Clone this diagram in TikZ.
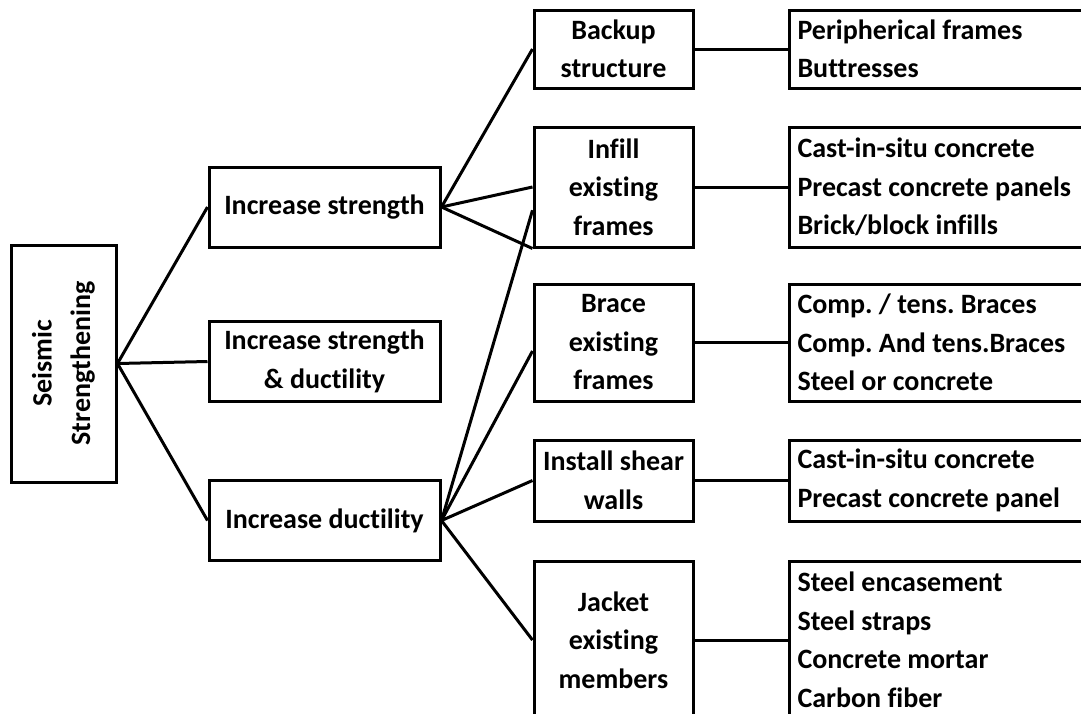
\documentclass[tikz,border=0pt]{standalone}
\usepackage{fontspec}
\setmainfont{Carlito}[Ligatures=NoCommon]
\usetikzlibrary{calc}
\frenchspacing

\begin{document}
\begin{tikzpicture}[x=0.5pt, y=-0.5pt,
    box/.style={draw, line width=1.5pt, align=center, inner sep=2pt, font=\bfseries\fontsize{14}{19.25}\selectfont},
    lvl/.style={box, minimum width=115.5pt, minimum height=40pt},
    way/.style={box, minimum width=79.5pt},
    list/.style={box, anchor=west, align=flush left, text width=152pt, inner xsep=4pt},
    link/.style={line width=1.5pt}
]
\path[use as bounding box, clip] (0,0) rectangle (1081,713);
% root, written upwards
\node[box, rotate=90, minimum width=118.5pt, minimum height=52.5pt] (seis) at (63.5,363.5) {Seismic\\Strengthening};
\node[lvl] (str) at (324.5,207) {Increase strength};
\node[lvl] (strduc) at (324.5,361.5) {Increase strength\\\& ductility};
\node[lvl] (duc) at (324.5,520.5) {Increase ductility};
% methods
\node[way, minimum height=39pt] (backup) at (613.5,49) {Backup\\structure};
\node[way, minimum height=60pt] (infill) at (613.5,187) {Infill\\existing\\frames};
\node[way, minimum height=58.5pt] (brace) at (613.5,342.5) {Brace\\existing\\frames};
\node[way, minimum height=40.5pt] (shear) at (613.5,480.5) {Install shear\\walls};
\node[way, minimum height=79pt] (jacket) at (613.5,640) {Jacket\\existing\\members};
% options
\node[list, minimum height=39pt] (backup-list) at (788,49) {Peripherical frames\\Buttresses};
\node[list, minimum height=60pt] (infill-list) at (788,187) {Cast-in-situ concrete\\Precast concrete panels\\Brick/block infills};
\node[list, minimum height=58.5pt] (brace-list) at (788,342.5) {Comp. / tens. Braces\\Comp. And tens.Braces\\Steel or concrete};
\node[list, minimum height=40.5pt] (shear-list) at (788,480.5) {Cast-in-situ concrete\\Precast concrete panel};
\node[list, minimum height=79pt] (jacket-list) at (788,640) {Steel encasement\\Steel straps\\Concrete mortar\\Carbon fiber};
\draw[link] (seis.south) -- (str.west);
\draw[link] (seis.south) -- (strduc.west);
\draw[link] (seis.south) -- (duc.west);
\draw[link] (str.east) -- (backup.west);
\draw[link] (str.east) -- (infill.west);
\draw[link] (str.east) -- (infill.south west);
\draw[link] (duc.east) -- (infill.196);
\draw[link] (duc.east) -- (brace.186);
\draw[link] (duc.east) -- (shear.west);
\draw[link] (duc.east) -- (jacket.west);
\foreach \n in {backup,infill,brace,shear,jacket}
    \draw[link] (\n.east) -- (\n-list.west);
\end{tikzpicture}
\end{document}
